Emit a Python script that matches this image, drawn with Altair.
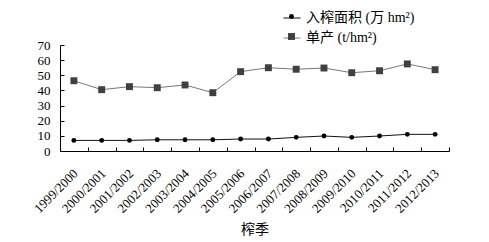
import altair as alt
import pandas as pd

seasons = ["1999/2000", "2000/2001", "2001/2002", "2002/2003", "2003/2004",
           "2004/2005", "2005/2006", "2006/2007", "2007/2008", "2008/2009",
           "2009/2010", "2010/2011", "2011/2012", "2012/2013"]
area = [7.0, 7.0, 7.0, 7.4, 7.4, 7.4, 7.9, 7.9, 9.0, 9.9, 9.0, 9.9, 11.0, 11.0]
yields = [46.4, 40.5, 42.5, 41.8, 43.6, 38.5, 52.4, 55.0, 54.0, 54.8, 51.7, 53.0, 57.5, 53.7]
series = ["入榨面积 (万 hm²)", "单产 (t/hm²)"]
keys = ["a", "b"]
y_ticks = [0, 10, 20, 30, 40, 50, 60, 70]

rows = []
for i, s in enumerate(seasons):
    rows.append({"season": s, "series": series[0], "key": keys[0], "value": area[i]})
    rows.append({"season": s, "series": series[1], "key": keys[1], "value": yields[i]})
df = pd.DataFrame(rows)

FONT = "Liberation Serif, Times New Roman, Noto Sans CJK SC"

xscale = alt.Scale(type="band", domain=seasons, paddingInner=0, paddingOuter=0)
yscale = alt.Scale(domain=[0, 70], nice=False, zero=True)

x_main = alt.X("season:N", scale=xscale, bandPosition=0.5, title="榨季",
               axis=alt.Axis(orient="bottom", labelAngle=-45, labelAlign="right",
                             labelBaseline="middle", labelFont=FONT, labelFontSize=13,
                             labelColor="#000", labelPadding=20, labelOffset=2,
                             ticks=False, domain=True,
                             domainColor="#000", domainWidth=1, grid=False,
                             titleFont=FONT, titleFontSize=14, titleFontWeight="normal",
                             titleColor="#000", titlePadding=7, labelOverlap=False))
x_ticks = alt.X("season:N", scale=xscale, bandPosition=0.5, title=None,
                axis=alt.Axis(orient="bottom", offset=-4, tickSize=4, tickBand="extent",
                              tickColor="#000", labels=False, domain=False, grid=False))
y_main = alt.Y("value:Q", scale=yscale, title=None,
               axis=alt.Axis(orient="left", values=y_ticks, labelFont=FONT, labelFontSize=13,
                             labelColor="#000", labelPadding=10, ticks=False, domain=True,
                             domainColor="#000", grid=False))
y_ticks_ax = alt.Y("value:Q", scale=yscale, title=None,
                   axis=alt.Axis(orient="left", values=y_ticks, offset=-4, tickSize=4,
                                 tickColor="#000", labels=False, domain=False, grid=False))

line_legend = alt.Legend(orient="none", legendX=223, legendY=-36, title=None,
                         symbolType="stroke", symbolSize=289, symbolStrokeWidth=1,
                         labelFont=FONT, labelFontSize=14, labelColor="#000",
                         labelOffset=5, rowPadding=4, padding=0)
pt_legend = alt.Legend(orient="none", legendX=228, legendY=-31, title=None,
                       labelExpr="''", labelFontSize=1, labelOffset=0,
                       rowPadding=14, padding=0, symbolStrokeWidth=0)

lines = alt.Chart(df).mark_line(strokeWidth=1).encode(
    x=x_main,
    y=y_main,
    stroke=alt.Stroke("series:N", scale=alt.Scale(domain=series, range=["#111111", "#777777"]),
                      legend=line_legend),
    detail="series:N",
)

points = alt.Chart(df).mark_point(filled=True, opacity=1, strokeWidth=0).encode(
    x=x_ticks,
    y=y_ticks_ax,
    shape=alt.Shape("key:N", scale=alt.Scale(domain=keys, range=["circle", "square"]),
                    legend=pt_legend),
    fill=alt.Fill("key:N", scale=alt.Scale(domain=keys, range=["#000000", "#404040"]),
                  legend=pt_legend),
    size=alt.Size("key:N", scale=alt.Scale(domain=keys, range=[24, 48]),
                  legend=pt_legend),
)

chart = alt.layer(lines, points).resolve_axis(x="independent", y="independent").properties(
    width=389, height=106,
    autosize=alt.AutoSizeParams(type="none"),
    padding={"left": 60, "top": 45, "right": 40, "bottom": 91},
    background="white",
).configure_view(stroke=None)

chart.save("out.html", embed_options={"renderer": "svg", "actions": False})
